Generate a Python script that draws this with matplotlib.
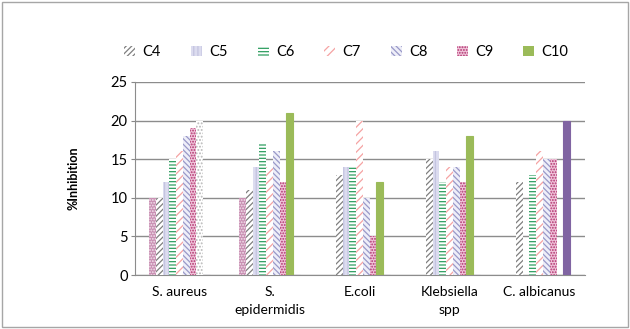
import numpy as np
import matplotlib
matplotlib.use("Agg")
from matplotlib import pyplot as plt
import matplotlib.patches as mpatches

plt.rcParams['font.family'] = ['Lato', 'DejaVu Sans']
plt.rcParams['hatch.linewidth'] = 0.9

# data
organisms = ['S. aureus', 'S.\nepidermidis', 'E.coli', 'Klebsiella\nspp', 'C. albicanus']
lead = [10, 10, 0, 0, 0]          # unlabelled first series
C4 = [10, 11, 13, 15, 12]
C5 = [12, 14, 14, 16, 0]
C6 = [15, 17, 14, 12, 13]
C7 = [16, 14, 20, 14, 16]
C8 = [18, 16, 10, 14, 15]
C9 = [19, 12, 5, 12, 15]
C10 = [20, 21, 12, 18, 0]
tail = [0, 0, 0, 0, 20]           # unlabelled last series

series = [lead, C4, C5, C6, C7, C8, C9, C10, tail]
names = [None, 'C4', 'C5', 'C6', 'C7', 'C8', 'C9', 'C10', None]
# (face, hatch colour, hatch)
styles = [('#c990b3', '#f4e4ee', '......'),
          ('white', '#7f7f7f', '//////'),
          ('#dcdcef', '#c4c4e0', '||||'),
          ('white', '#2f9e60', '-----'),
          ('white', '#f5a3a3', '////'),
          ('#eeeef8', '#9898c8', '\\\\\\\\\\\\'),
          ('#f0c4da', '#b0306c', '......'),
          ('#9bbb59', '#9bbb59', None),
          ('#8064a2', '#8064a2', None)]

fig = plt.figure(figsize=(6.3, 3.29), dpi=100)
ax = fig.add_axes([0.2135, 0.164, 0.7145, 0.587])

x = np.arange(len(organisms))
w = 0.075
bars = []
for i, vals in enumerate(series):
    face, hc, hatch = styles[i]
    b = ax.bar(x + (i - 4) * w, vals, w, color=face, edgecolor=hc, hatch=hatch,
               linewidth=0 if hatch else 0.8, zorder=3)
    bars.append(b)

# S. aureus C10 point has its own fill in the original
p = bars[7][0]
p.set_facecolor('white')
p.set_edgecolor('#b8b8b8')
p.set_hatch('.....')
p.set_linewidth(0)

ax.set_xlim(-0.5, 4.5)
ax.set_ylim(0, 25)
ax.set_yticks(range(0, 26, 5))
ax.set_xticks(x)
ax.set_xticklabels(organisms, fontsize=10, linespacing=1.6)
ax.tick_params(axis='y', labelsize=10.5, length=3, color='#888888', pad=2)
ax.tick_params(axis='x', length=0, pad=8)
ax.yaxis.grid(True, color='#8c8c8c', lw=1)
ax.set_axisbelow(True)
for s in ['top', 'right']:
    ax.spines[s].set_visible(False)
ax.spines['left'].set_color('#8c8c8c')
ax.spines['bottom'].set_color('#8c8c8c')
ax.set_ylabel('%Inhibition', fontsize=9, fontweight='bold', labelpad=22)

handles = []
labels = []
for i, n in enumerate(names):
    if n is None:
        continue
    face, hc, hatch = styles[i]
    handles.append(mpatches.Patch(facecolor=face, edgecolor=hc, hatch=hatch, linewidth=0))
    labels.append(n)
fig.legend(handles, labels, ncol=7, loc='center', bbox_to_anchor=(0.55, 1 - 52 / 329),
           frameon=False, fontsize=10.5, handlelength=0.75, handleheight=0.75,
           handletextpad=0.5, columnspacing=2.05)

fig.patches.append(mpatches.Rectangle((0.003, 0.005), 0.994, 0.99, transform=fig.transFigure,
                                      fill=False, edgecolor='#a6a6a6', lw=1))

fig.savefig('out.png', dpi=100)
